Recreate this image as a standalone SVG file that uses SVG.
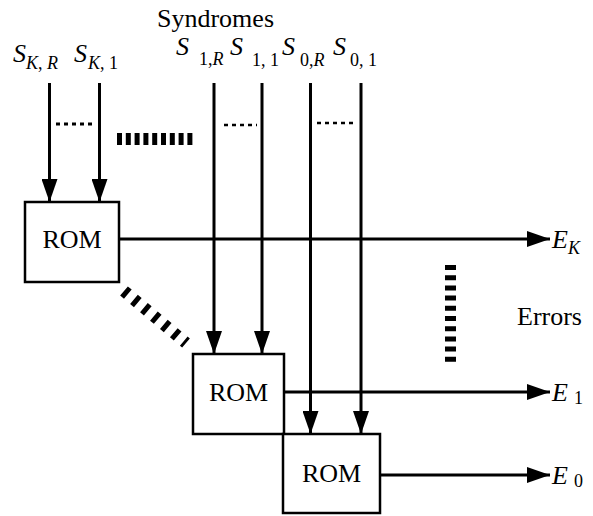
<svg xmlns="http://www.w3.org/2000/svg" width="593" height="516" viewBox="0 0 593 516">
<defs>
<style>
.t{font-family:"Liberation Serif","Times New Roman",serif;fill:#000}
.big{font-size:26px}
.sub{font-size:18px}
.it{font-style:italic}
.box{fill:#fff;stroke:#000;stroke-width:2.5}
.ln{stroke:#000;stroke-width:3;fill:none}
</style>
<marker id="ah" viewBox="0 0 23 16" refX="23" refY="8" markerWidth="23" markerHeight="16" markerUnits="userSpaceOnUse" orient="auto">
<path d="M0,0 L23,8 L0,16 Z" fill="#000"/>
</marker>
</defs>
<rect width="593" height="516" fill="#fff"/>

<g id="labels">
<text class="t big" x="157" y="27">Syndromes</text>
<text class="t big" x="517" y="325">Errors</text>
</g>

<g id="syndromes" class="t">
<text x="13" y="62"><tspan class="big it">S</tspan><tspan class="sub" x="26" y="69"><tspan class="it">K</tspan>, <tspan class="it">R</tspan></tspan></text>
<text x="74" y="62"><tspan class="big it">S</tspan><tspan class="sub" x="88" y="69"><tspan class="it">K</tspan>, 1</tspan></text>
<text x="176" y="55"><tspan class="big it">S</tspan><tspan class="sub" x="199" y="65">1,<tspan class="it">R</tspan></tspan></text>
<text x="230" y="55"><tspan class="big it">S</tspan><tspan class="sub" x="252" y="66">1, 1</tspan></text>
<text x="282" y="55"><tspan class="big it">S</tspan><tspan class="sub" x="300" y="66">0,<tspan class="it">R</tspan></tspan></text>
<text x="333" y="55"><tspan class="big it">S</tspan><tspan class="sub" x="350" y="66">0, 1</tspan></text>
</g>

<g id="connectors">
<line class="ln" x1="49.5" y1="83" x2="49.5" y2="202" marker-end="url(#ah)"/>
<line class="ln" x1="99.5" y1="83" x2="99.5" y2="202" marker-end="url(#ah)"/>
<line class="ln" x1="214" y1="83" x2="214" y2="354" marker-end="url(#ah)"/>
<line class="ln" x1="262" y1="83" x2="262" y2="354" marker-end="url(#ah)"/>
<line class="ln" x1="310.5" y1="83" x2="310.5" y2="434" marker-end="url(#ah)"/>
<line class="ln" x1="361" y1="83" x2="361" y2="434" marker-end="url(#ah)"/>
<line class="ln" x1="119" y1="239" x2="550" y2="239" marker-end="url(#ah)"/>
<line class="ln" x1="284" y1="392" x2="550" y2="392" marker-end="url(#ah)"/>
<line class="ln" x1="380" y1="475" x2="550" y2="475" marker-end="url(#ah)"/>
</g>

<g id="ellipses">
<line x1="56" y1="124" x2="94" y2="124" stroke="#000" stroke-width="3" stroke-dasharray="4 4"/>
<line x1="117" y1="139" x2="196" y2="139" stroke="#000" stroke-width="12" stroke-dasharray="5 3.8"/>
<line x1="224" y1="125" x2="257" y2="125" stroke="#000" stroke-width="2.5" stroke-dasharray="4 4"/>
<line x1="317" y1="123" x2="355" y2="123" stroke="#000" stroke-width="2.5" stroke-dasharray="4 4"/>
<line x1="450.5" y1="265" x2="450.5" y2="364" stroke="#000" stroke-width="11" stroke-dasharray="5 5.2"/>
<line x1="124" y1="291" x2="186" y2="343" stroke="#000" stroke-width="12" stroke-dasharray="5 8"/>
</g>

<g id="rom1">
<rect class="box" x="25" y="202" width="94" height="80"/>
<text class="t big" x="72" y="248" text-anchor="middle">ROM</text>
</g>
<g id="rom2">
<rect class="box" x="193" y="354" width="91" height="80"/>
<text class="t big" x="238.5" y="401" text-anchor="middle">ROM</text>
</g>
<g id="rom3">
<rect class="box" x="283" y="434" width="97" height="79"/>
<text class="t big" x="331.5" y="482" text-anchor="middle">ROM</text>
</g>

<g id="outputs" class="t">
<text x="552" y="248"><tspan class="big it">E</tspan><tspan class="sub it" y="254">K</tspan></text>
<text x="552" y="401"><tspan class="big it">E</tspan><tspan class="sub" x="574" y="404">1</tspan></text>
<text x="552" y="484"><tspan class="big it">E</tspan><tspan class="sub" x="574" y="487">0</tspan></text>
</g>
</svg>
